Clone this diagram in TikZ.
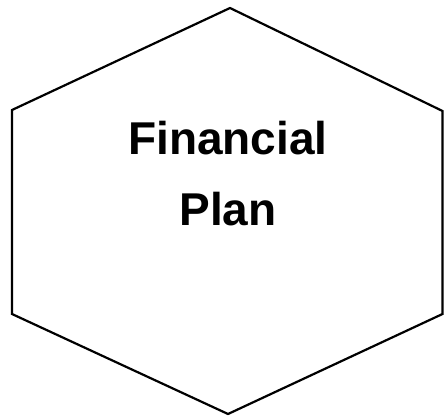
\documentclass[tikz,border=0pt]{standalone}
\usepackage{fontspec}
\setmainfont{Liberation Sans}
\begin{document}
\begin{tikzpicture}[x=1pt,y=1pt,
  hexline/.style={line width=2.2pt, line join=miter},
  label/.style={font=\fontsize{46}{70}\selectfont\bfseries, align=center, inner sep=0pt}]
\useasboundingbox (0,0) rectangle (444,418);
\coordinate (t) at (230,410);
\coordinate (ur) at (442.5,307);
\coordinate (lr) at (442.5,104);
\coordinate (b) at (228,4);
\coordinate (ll) at (12,104);
\coordinate (ul) at (12,308);
\draw[hexline] (t) -- (ur) -- (lr) -- (b) -- (ll) -- (ul) -- cycle;
\node[label, anchor=base] (fin) at (228,263) {Financial};
\node[label, anchor=base] (plan) at (228,193) {Plan};
\end{tikzpicture}
\end{document}
